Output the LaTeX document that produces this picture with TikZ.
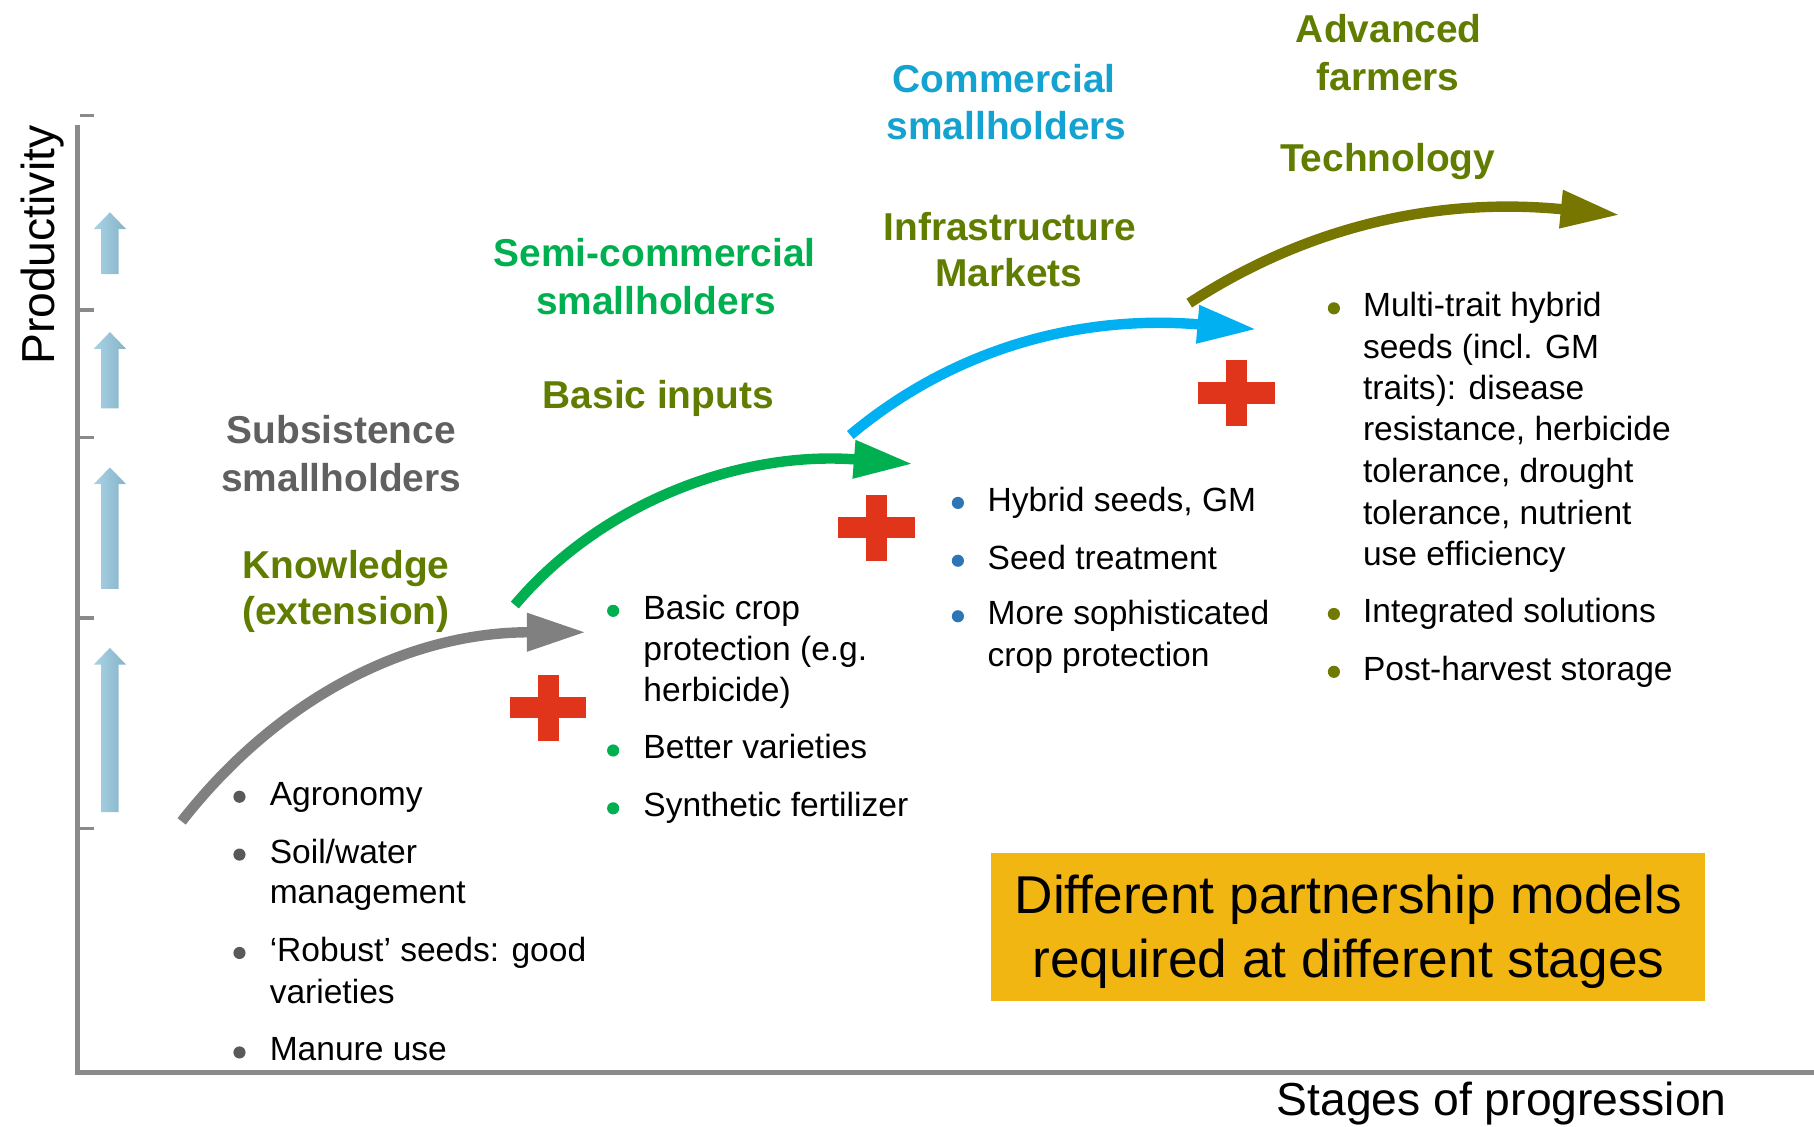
\documentclass[tikz,border=0pt]{standalone}
\usepackage{fontspec}
\setmainfont{Liberation Sans}
\usetikzlibrary{arrows.meta}
\definecolor{axisgray}{HTML}{8A8A8A}
\definecolor{arrowgray}{HTML}{808080}
\definecolor{arrowgreen}{HTML}{00B050}
\definecolor{arrowblue}{HTML}{00B0F0}
\definecolor{arrowolive}{HTML}{767600}
\definecolor{txtgray}{HTML}{606060}
\definecolor{txtolive}{HTML}{607D00}
\definecolor{txtgreen}{HTML}{00B050}
\definecolor{txtcyan}{HTML}{14A3D0}
\definecolor{bulgray}{HTML}{595959}
\definecolor{bulgreen}{HTML}{00B050}
\definecolor{bulblue}{HTML}{2E75B6}
\definecolor{bulolive}{HTML}{707A00}
\definecolor{plusred}{HTML}{E0351A}
\definecolor{boxyellow}{HTML}{F2B612}
\definecolor{ablueL}{HTML}{A9D2E4}
\definecolor{ablueR}{HTML}{86B3C9}
\begin{document}
\begin{tikzpicture}[x=1pt,y=-1pt,
  axisline/.style={draw=axisgray, line width=4.5pt},
  tickline/.style={draw=axisgray, line width=3pt},
  stagearrow/.style={line width=9pt, -{Triangle[length=51pt,width=31pt]}},
  uparrow/.style={left color=ablueL, right color=ablueR, draw=none},
  bodytext/.style={inner sep=0pt, anchor=base west, font=\fontsize{29}{36}\selectfont},
  headtext/.style={inner sep=0pt, anchor=base, font=\bfseries\fontsize{33.6}{41}\selectfont},
  axistext/.style={inner sep=0pt, anchor=base, font=\fontsize{40}{48}\selectfont},
  bulletdot/.style={circle, inner sep=0pt, minimum size=10.5pt, draw=none},
  redcross/.pic={\fill[plusred] (-33,-9.2) rectangle (33,9.2);
                 \fill[plusred] (-9.2,-28.4) rectangle (9.2,28.4);}
]
\path[use as bounding box] (0,0) rectangle (1568,974);

% axes
\coordinate (ytop) at (67,108);
\coordinate (origin) at (67,927);
\coordinate (xend) at (1568,927);
\draw[axisline] (ytop) -- (origin) -- (xend);
\coordinate (t0a) at (69,100); \coordinate (t0b) at (81,100);
\draw[tickline] (t0a) -- (t0b);
\foreach \ty [count=\i] in {268,378,534,716}{
  \coordinate (ta\i) at (67,\ty); \coordinate (tb\i) at (81,\ty);
  \draw[tickline] (ta\i) -- (tb\i);
}
\node[axistext, rotate=90] (prod) at (47,212) {Productivity};
\node[axistext] (stages) at (1298,964) {Stages of progression};

% light blue up arrows
\foreach \t/\b in {183.5/237, 287/353, 404/509, 560/702}{
  \path[uparrow] (95,\t) -- (109,\t+14.5) -- (102.5,\t+14.5) -- (102.5,\b)
     -- (87.5,\b) -- (87.5,\t+14.5) -- (81,\t+14.5) -- cycle;
}

% stage arrows
\coordinate (g0) at (157,710);   \coordinate (g1) at (506.5,546.5);
\coordinate (n0) at (445,523);   \coordinate (n1) at (789,401);
\coordinate (c0) at (735,376);   \coordinate (c1) at (1086,284.6);
\coordinate (o0) at (1028,262);  \coordinate (o1) at (1400,185.8);
\draw[stagearrow, draw=arrowgray]  (g0) .. controls (243,600) and (356,546.5) .. (g1);
\draw[stagearrow, draw=arrowgreen] (n0) .. controls (519,435) and (639.5,389.3) .. (n1);
\draw[stagearrow, draw=arrowblue]  (c0) .. controls (827,299) and (937,272) .. (c1);
\draw[stagearrow, draw=arrowolive] (o0) .. controls (1137,191) and (1251,171) .. (o1);

% red crosses
\pic at (473.9,611.8) {redcross};
\pic at (757.7,456.2) {redcross};
\pic at (1068.9,339.7) {redcross};

% headings
\node[headtext, text=txtgray] (h1a) at (295,383) {Subsistence};
\node[headtext, text=txtgray] (h1b) at (295,425) {smallholders};
\node[headtext, text=txtolive] (k1a) at (299,500) {Knowledge};
\node[headtext, text=txtolive] (k1b) at (299,540) {(extension)};
\node[headtext, text=txtgreen] (h2a) at (566,230) {Semi-commercial};
\node[headtext, text=txtgreen] (h2b) at (567,272) {smallholders};
\node[headtext, text=txtolive] (k2) at (569,353) {Basic inputs};
\node[headtext, text=txtcyan] (h3a) at (868,80) {Commercial};
\node[headtext, text=txtcyan] (h3b) at (870,121) {smallholders};
\node[headtext, text=txtolive] (k3a) at (873,208) {Infrastructure};
\node[headtext, text=txtolive] (k3b) at (872,248) {Markets};
\node[headtext, text=txtolive] (h4a) at (1200.5,37) {Advanced};
\node[headtext, text=txtolive] (h4b) at (1200,78) {farmers};
\node[headtext, text=txtolive] (k4) at (1199.5,148.4) {Technology};

% list 1
\node[bulletdot, fill=bulgray] (d11) at (207,688.7) {};
\node[bulletdot, fill=bulgray] (d12) at (207,738.7) {};
\node[bulletdot, fill=bulgray] (d13) at (207,823.7) {};
\node[bulletdot, fill=bulgray] (d14) at (207,909.7) {};
\node[bodytext] (l11) at (233,696) {Agronomy};
\node[bodytext] (l12) at (233,746) {Soil/water};
\node[bodytext] (l12b) at (233,781) {management};
\node[bodytext] (l13) at (233,831) {‘Robust’ seeds: good};
\node[bodytext] (l13b) at (233,867) {varieties};
\node[bodytext] (l14) at (233,917) {Manure use};

% list 2
\node[bulletdot, fill=bulgreen] (d21) at (530,528) {};
\node[bulletdot, fill=bulgreen] (d22) at (530,648.7) {};
\node[bulletdot, fill=bulgreen] (d23) at (530,698.7) {};
\node[bodytext] (l21) at (556,535.5) {Basic crop};
\node[bodytext] (l21b) at (556,571) {protection (e.g.};
\node[bodytext] (l21c) at (556,606) {herbicide)};
\node[bodytext] (l22) at (556,656) {Better varieties};
\node[bodytext] (l23) at (556,706) {Synthetic fertilizer};

% list 3
\node[bulletdot, fill=bulblue] (d31) at (828,434.7) {};
\node[bulletdot, fill=bulblue] (d32) at (828,484.7) {};
\node[bulletdot, fill=bulblue] (d33) at (828,532.7) {};
\node[bodytext] (l31) at (853.5,442) {Hybrid seeds, GM};
\node[bodytext] (l32) at (853.5,492) {Seed treatment};
\node[bodytext] (l33) at (853.5,540) {More sophisticated};
\node[bodytext] (l33b) at (853.5,576) {crop protection};

% list 4
\node[bulletdot, fill=bulolive] (d41) at (1153,266.5) {};
\node[bulletdot, fill=bulolive] (d42) at (1153,530.7) {};
\node[bulletdot, fill=bulolive] (d43) at (1153,580.7) {};
\node[bodytext] (l41) at (1178,274) {Multi-trait hybrid};
\node[bodytext] (l41b) at (1178,310) {seeds (incl. GM};
\node[bodytext] (l41c) at (1178,345) {traits): disease};
\node[bodytext] (l41d) at (1178,381) {resistance, herbicide};
\node[bodytext] (l41e) at (1178,417) {tolerance, drought};
\node[bodytext] (l41f) at (1178,453) {tolerance, nutrient};
\node[bodytext] (l41g) at (1178,489) {use efficiency};
\node[bodytext] (l42) at (1178,538) {Integrated solutions};
\node[bodytext] (l43) at (1178,588) {Post-harvest storage};

% box
\node[fill=boxyellow, minimum width=617pt, minimum height=128pt, inner sep=0pt] (box) at (1165.5,801) {};
\node[inner sep=0pt, align=center, font=\fontsize{46}{55}\selectfont] (boxt) at (1165.5,805.5)
  {Different partnership models\\required at different stages};
\end{tikzpicture}
\end{document}
